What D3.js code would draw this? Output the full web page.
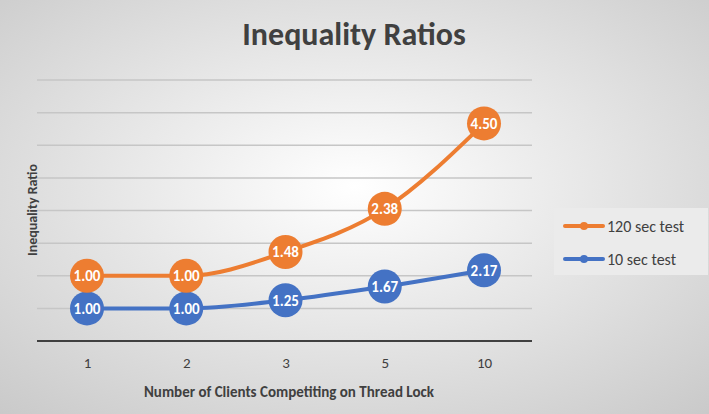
<!DOCTYPE html>
<html><head><meta charset="utf-8">
<script src="https://cdn.jsdelivr.net/npm/d3@7"></script>
<style>body{margin:0}svg{display:block}</style>
</head><body>
<svg id="chart" width="709" height="414"></svg>
<script>
// data (stacked line chart: 120 sec is drawn on top of 10 sec)
var categories = ["1", "2", "3", "5", "10"];
var tenSec = [1.00, 1.00, 1.25, 1.67, 2.17];
var oneTwentySec = [1.00, 1.00, 1.48, 2.38, 4.50];
var gridValues = [0, 1, 2, 3, 4, 5, 6, 7, 8];

var FONT = "Calibri, Carlito, Lato, sans-serif";
var svg = d3.select("#chart");
var W = 709, H = 414;

// background gradient
var defs = svg.append("defs");
var grad = defs.append("radialGradient").attr("id", "bg")
    .attr("cx", "50%").attr("cy", "45%").attr("r", "75%");
grad.append("stop").attr("offset", "0%").attr("stop-color", "#ffffff");
grad.append("stop").attr("offset", "100%").attr("stop-color", "#c9c9c9");
svg.append("rect").attr("width", W).attr("height", H).attr("fill", "url(#bg)");

var x = d3.scalePoint().domain(categories).range([87, 484]).padding(0);
var y = d3.scaleLinear().domain([0, 8]).range([341, 80]);

// gridlines
svg.append("g").selectAll("line").data(gridValues.slice(1)).join("line")
    .attr("x1", 37).attr("x2", 532)
    .attr("y1", d => y(d)).attr("y2", d => y(d))
    .attr("stroke", "#c6c6c6").attr("stroke-width", 1.5);

// x axis
var xAxis = svg.append("g").attr("transform", "translate(0," + y(0) + ")")
    .call(d3.axisBottom(x).tickSize(0).tickPadding(16));
xAxis.select(".domain").remove();
xAxis.append("line").attr("x1", 37).attr("x2", 532).attr("stroke", "#404040").attr("stroke-width", 2);
xAxis.selectAll("text").attr("font-family", FONT)
    .attr("font-size", 15).attr("fill", "#404040");

var series = [
    {name: "10 sec test", color: "#4472C4", vals: tenSec, base: tenSec.map(() => 0)},
    {name: "120 sec test", color: "#ED7D31", vals: oneTwentySec, base: tenSec}
];

var line = d3.line().curve(d3.curveMonotoneX)
    .x(d => x(d.c)).y(d => y(d.v));

series.forEach(s => {
    var pts = categories.map((c, i) => ({c: c, v: s.vals[i] + s.base[i], label: s.vals[i]}));
    svg.append("path").datum(pts).attr("d", line)
        .attr("fill", "none").attr("stroke", s.color).attr("stroke-width", 4);
    var g = svg.append("g").selectAll("g").data(pts).join("g")
        .attr("transform", d => "translate(" + x(d.c) + "," + y(d.v) + ")");
    g.append("circle").attr("r", 17).attr("fill", s.color);
    g.append("text").text(d => d.label.toFixed(2))
        .attr("text-anchor", "middle").attr("dy", "0.36em")
        .attr("font-family", FONT)
        .attr("font-weight", "bold").attr("font-size", 15).attr("fill", "#fff");
});

// title and axis labels
svg.append("text").text("Inequality Ratios").attr("x", 354).attr("y", 45)
    .attr("text-anchor", "middle").attr("font-family", FONT)
    .attr("font-weight", "bold").attr("font-size", 32).attr("fill", "#404040");
svg.append("text").text("Inequality Ratio")
    .attr("transform", "translate(37,210) rotate(-90)")
    .attr("text-anchor", "middle").attr("font-family", FONT)
    .attr("font-weight", "bold").attr("font-size", 14).attr("fill", "#404040");
svg.append("text").text("Number of Clients Competiting on Thread Lock").attr("x", 289).attr("y", 397)
    .attr("text-anchor", "middle").attr("font-family", FONT)
    .attr("font-weight", "bold").attr("font-size", 15).attr("fill", "#404040");

// legend
var legend = svg.append("g").attr("transform", "translate(554,208)");
legend.append("rect").attr("width", 154).attr("height", 67).attr("fill", "#ebebeb");
[series[1], series[0]].forEach((s, i) => {
    var ly = 18 + i * 33;
    legend.append("line").attr("x1", 11).attr("x2", 49).attr("y1", ly).attr("y2", ly)
        .attr("stroke", s.color).attr("stroke-width", 4).attr("stroke-linecap", "round");
    legend.append("circle").attr("cx", 30).attr("cy", ly).attr("r", 4).attr("fill", s.color);
    legend.append("text").text(s.name).attr("x", 53).attr("y", ly).attr("dy", "0.35em")
        .attr("font-family", FONT)
        .attr("font-size", 16).attr("fill", "#404040");
});
</script>
</body></html>
